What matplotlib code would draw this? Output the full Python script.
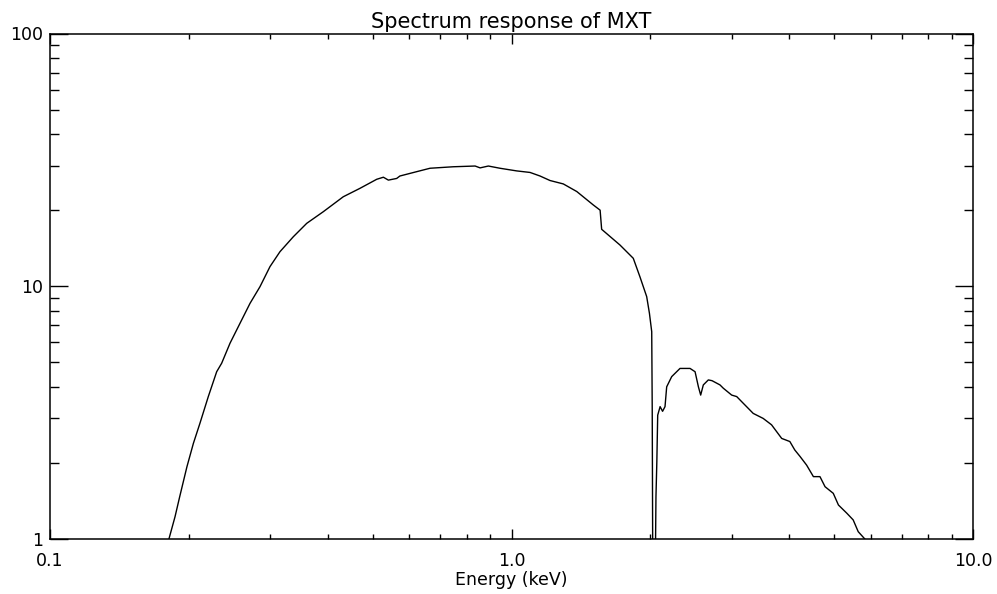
# standard libraries
import math

# non-standard libraries
import matplotlib
matplotlib.use("Agg")
import matplotlib.pyplot as plt
from matplotlib.ticker import FixedLocator, LogLocator, NullFormatter


# MXT spectrum response
energy = [0.17, 0.181, 0.1866, 0.191, 0.198, 0.2045, 0.2113, 0.2203, 0.2297, 0.2355,
          0.2455, 0.258, 0.2713, 0.2851, 0.2997, 0.315, 0.3367, 0.36, 0.391, 0.432,
          0.4695, 0.5105, 0.5277, 0.541, 0.5639, 0.573, 0.623, 0.666, 0.748, 0.834,
          0.855, 0.891, 0.944, 1.026, 1.097, 1.153, 1.212, 1.295, 1.385, 1.504,
          1.556, 1.568, 1.718, 1.836, 1.898, 1.963, 1.99, 2.013, 2.018, 2.025,
          2.045, 2.056, 2.065, 2.074, 2.099, 2.125, 2.151, 2.169, 2.224, 2.318,
          2.437, 2.499, 2.541, 2.57, 2.604, 2.67, 2.72, 2.83, 2.877, 3.0,
          3.076, 3.18, 3.34, 3.51, 3.66, 3.85, 4.01, 4.11, 4.22, 4.36,
          4.51, 4.66, 4.78, 4.98, 5.11, 5.33, 5.50, 5.64, 5.83, 6.1]
response = [0.8, 1.0, 1.225, 1.47, 1.93, 2.39, 2.87, 3.66, 4.59, 4.96,
            5.95, 7.13, 8.56, 9.96, 11.96, 13.7, 15.7, 17.74, 19.72, 22.6,
            24.4, 26.5, 27.0, 26.3, 26.7, 27.3, 28.4, 29.3, 29.7, 29.9,
            29.4, 29.9, 29.3, 28.6, 28.2, 27.3, 26.2, 25.4, 23.7, 20.97,
            20.0, 16.8, 14.56, 12.9, 10.9, 9.1, 7.82, 6.61, 3.29, 0.5,
            0.5, 1.47, 2.02, 3.09, 3.34, 3.2, 3.34, 4.0, 4.39, 4.73,
            4.73, 4.59, 4.0, 3.71, 4.07, 4.26, 4.23, 4.07, 3.95, 3.71,
            3.66, 3.44, 3.14, 3.0, 2.83, 2.5, 2.43, 2.25, 2.12, 1.96,
            1.765, 1.765, 1.61, 1.516, 1.363, 1.264, 1.19, 1.069, 1.0, 0.85]

xticks = [0.1, 1.0, 10.0]
xticklabels = ["0.1", "1.0", "10.0"]
yticks = [1, 10, 100]
yticklabels = ["1", "10", "100"]


def main():
    fig = plt.figure(figsize=(9.97, 5.94), dpi=100)
    ax = fig.add_axes([50 / 997, 1 - 539 / 594, 923 / 997, 505.5 / 594])

    ax.plot(energy, response, color="black", lw=1.0)
    ax.set_xscale("log")
    ax.set_yscale("log")
    ax.set_xlim(0.1, 10.0)
    ax.set_ylim(1, 100)

    ax.xaxis.set_major_locator(FixedLocator(xticks))
    ax.set_xticklabels(xticklabels)
    ax.yaxis.set_major_locator(FixedLocator(yticks))
    ax.set_yticklabels(yticklabels)
    ax.xaxis.set_minor_locator(LogLocator(base=10, subs=range(2, 10)))
    ax.yaxis.set_minor_locator(LogLocator(base=10, subs=range(2, 10)))
    ax.xaxis.set_minor_formatter(NullFormatter())
    ax.yaxis.set_minor_formatter(NullFormatter())

    # IDL style ticks: inward, on every side
    ax.tick_params(axis="both", which="both", direction="in",
                   top=True, right=True, width=1.0, colors="black",
                   labelsize=12.5)
    ax.tick_params(axis="x", which="major", length=7.2, pad=9)
    ax.tick_params(axis="x", which="minor", length=3.6)
    ax.tick_params(axis="y", which="major", length=13.3, pad=5)
    ax.tick_params(axis="y", which="minor", length=6.8)
    for s in ax.spines.values():
        s.set_linewidth(1.1)

    ax.set_xlabel("Energy (keV)", fontsize=12.5, labelpad=1)
    ax.set_title("Spectrum response of MXT", fontsize=15, pad=4)

    plt.savefig("out.png", dpi=100)


if __name__ == "__main__": main()
